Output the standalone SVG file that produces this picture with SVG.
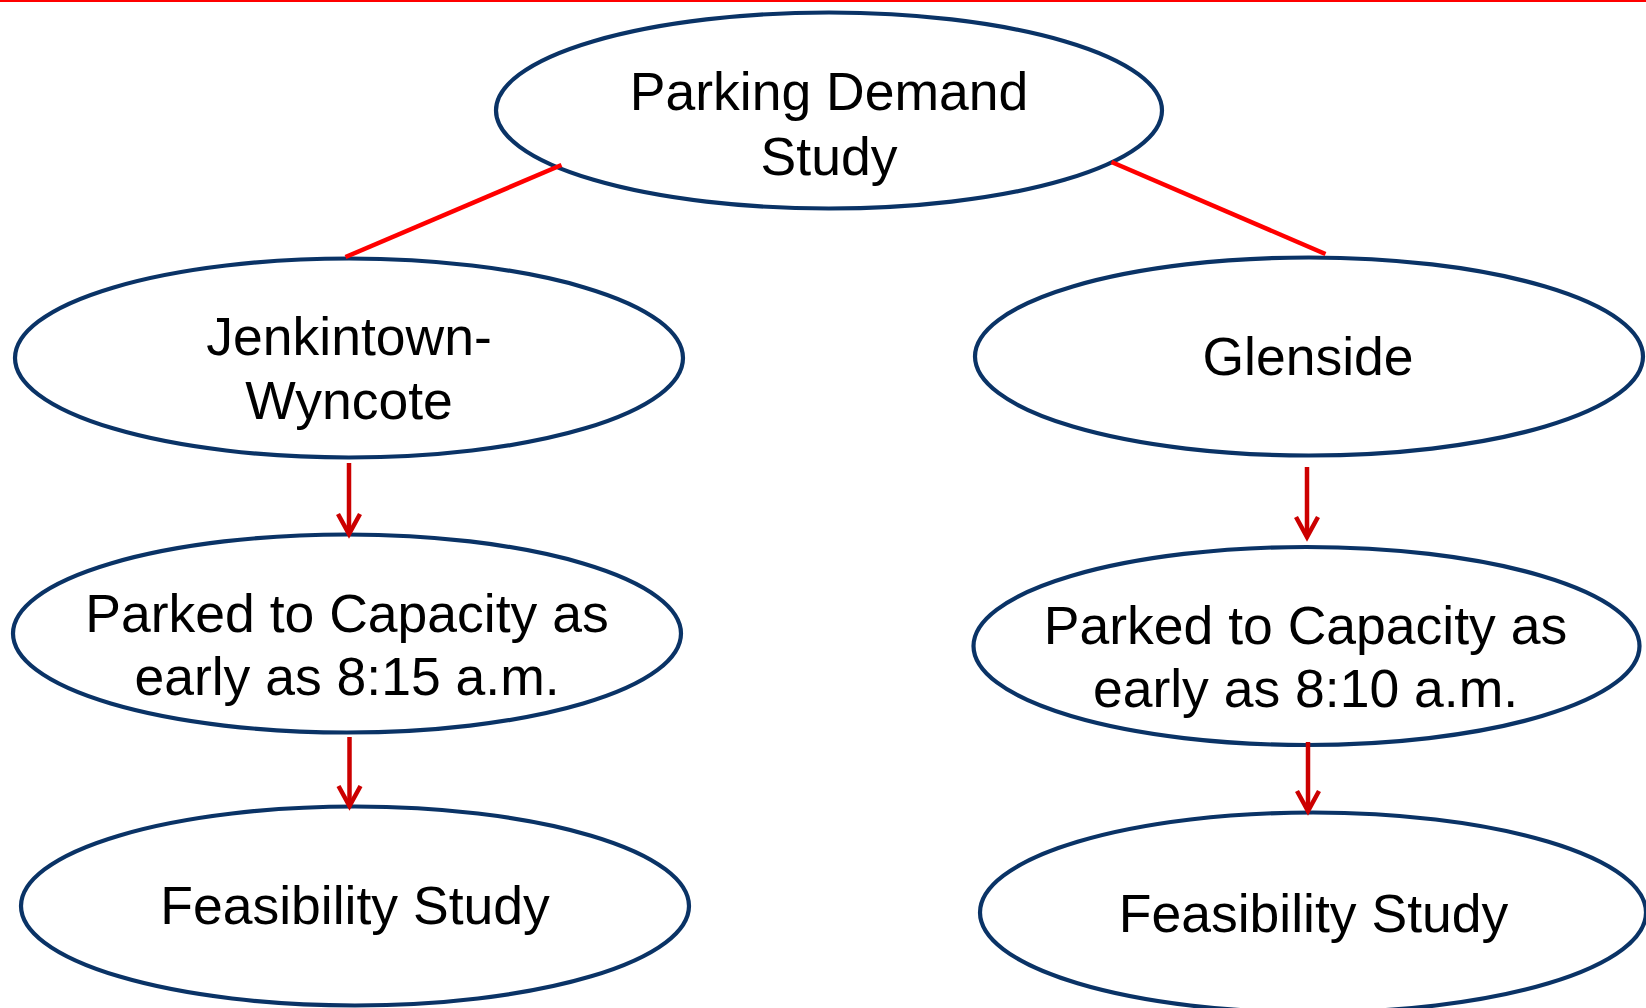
<svg xmlns="http://www.w3.org/2000/svg" width="1646" height="1008" viewBox="0 0 1646 1008">
<style>
.node ellipse{fill:#fff;stroke:#0A3366;stroke-width:4.2}
.node text{font-family:"Liberation Sans",Arial,sans-serif;font-size:53.5px;fill:#000;text-anchor:middle}
.tree line{stroke:#FF0000;stroke-width:4.5}
.arr line{stroke:#CC0000;stroke-width:4.5}
.arr path{fill:none;stroke:#CC0000;stroke-width:4.5;stroke-linejoin:miter}
</style>
<rect width="1646" height="1008" fill="#fff"/>
<line x1="0" y1="1" x2="1646" y2="1" stroke="#FF0000" stroke-width="2"/>
<g id="n-parking" class="node">
<ellipse cx="829" cy="110.5" rx="333" ry="98"/>
<text x="829" y="110">Parking Demand</text>
<text x="829" y="175">Study</text>
</g>
<g id="n-jenkintown" class="node">
<ellipse cx="349" cy="358" rx="334" ry="99.5"/>
<text x="349" y="355">Jenkintown-</text>
<text x="349" y="419">Wyncote</text>
</g>
<g id="n-glenside" class="node">
<ellipse cx="1309" cy="356.5" rx="334" ry="99"/>
<text x="1308" y="375">Glenside</text>
</g>
<g id="n-parked-left" class="node">
<ellipse cx="347" cy="633.5" rx="334" ry="99"/>
<text x="347" y="632">Parked to Capacity as</text>
<text x="347" y="695">early as 8:15 a.m.</text>
</g>
<g id="n-parked-right" class="node">
<ellipse cx="1306.5" cy="646" rx="333" ry="99"/>
<text x="1305.5" y="643.5">Parked to Capacity as</text>
<text x="1305.5" y="706.5">early as 8:10 a.m.</text>
</g>
<g id="n-feas-left" class="node">
<ellipse cx="355" cy="906" rx="334" ry="99.5"/>
<text x="355" y="924">Feasibility Study</text>
</g>
<g id="n-feas-right" class="node">
<ellipse cx="1313" cy="912.5" rx="333" ry="100"/>
<text x="1313.5" y="932">Feasibility Study</text>
</g>
<g id="connectors">
<g class="tree">
<line x1="561.5" y1="165" x2="345.5" y2="257"/>
<line x1="1111.5" y1="162" x2="1325.5" y2="254"/>
</g>
<g class="arr">
<line x1="349" y1="463" x2="349" y2="532"/>
<path d="M338,514 L349,534 L360,514"/>
<line x1="349.5" y1="737" x2="349.5" y2="804"/>
<path d="M338.5,786 L349.5,806 L360.5,786"/>
<line x1="1307" y1="467" x2="1307" y2="535"/>
<path d="M1296,517 L1307,537 L1318,517"/>
<line x1="1308" y1="742" x2="1308" y2="809"/>
<path d="M1297,791 L1308,811 L1319,791"/>
</g>
</g>
</svg>
